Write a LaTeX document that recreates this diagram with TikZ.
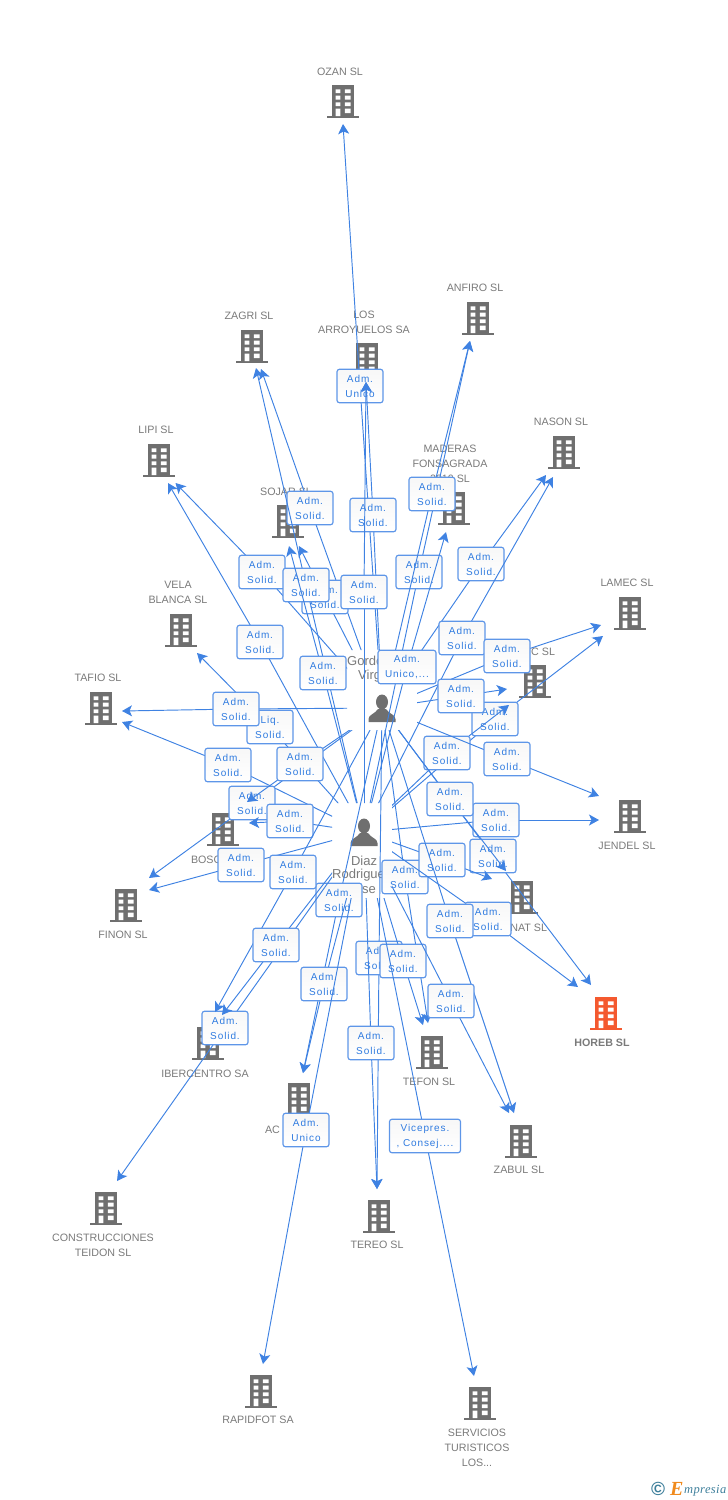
\documentclass[tikz,border=0pt]{standalone}
\usepackage{fontspec}
\setmainfont{Liberation Sans}
\newfontfamily\boxfont[LetterSpace=9]{Liberation Sans}
\newfontfamily\logofont[LetterSpace=3,Ligatures=NoCommon]{Liberation Serif}
\usetikzlibrary{arrows.meta}
\definecolor{edgeblue}{HTML}{3F82E2}
\definecolor{boxblue}{HTML}{5E96E8}
\definecolor{boxtext}{HTML}{2F7BE0}
\definecolor{icongrey}{HTML}{6F6F6F}
\definecolor{namegrey}{HTML}{7A7A7A}
\definecolor{horeb}{HTML}{F4592F}
\definecolor{logoteal}{HTML}{3E7F9B}
\definecolor{logoorange}{HTML}{F08A1D}
\tikzset{
  conn/.style={draw=edgeblue,line width=0.95pt},
  tipped/.style={conn,-{Stealth[length=10pt,width=11pt,inset=2.5pt]}},
  lblbox/.style={draw=boxblue,line width=1.15pt,rounded corners=2.5pt,top color=black!3,bottom color=white,
    minimum width=46pt,minimum height=33.5pt,inner sep=0pt,align=center,text=boxtext,
    font=\boxfont\fontsize{10}{15}\selectfont},
  bnode/.style={rectangle,minimum width=34pt,minimum height=34pt,inner sep=0pt,outer sep=0pt},
  pnode/.style={rectangle,minimum width=27pt,minimum height=27pt,inner sep=0pt,outer sep=0pt},
  namelbl/.style={inner sep=0pt,align=center,text=namegrey,font=\fontsize{10.7}{15}\selectfont,anchor=north},
  personlbl/.style={inner sep=0pt,text=namegrey,font=\fontsize{13}{15}\selectfont},
}
% building icon, name, label
\newcommand{\bld}[6][icongrey]{%
  \node[bnode] (#2) at (#3,#4) {};
  \begin{scope}[shift={(#3,#4)}]
    \fill[#1] (-11,-16) rectangle (11,15.5);
    \fill[#1] (-16,14.5) rectangle (16,17);
    \fill[white] (-7.5,-11.7) rectangle (-2.7,-8) (1.8,-11.7) rectangle (7.5,-8)
      (-7.5,-5.3) rectangle (-2.7,-1.3) (1.8,-5.3) rectangle (7.5,-1.3)
      (-7.5,1.3) rectangle (-2.7,5) (1.8,1.3) rectangle (7.5,5)
      (-7.5,7.7) rectangle (-2.7,15) (1.8,7.7) rectangle (7.5,12);
  \end{scope}
  \node[namelbl] (#2-name) at #5 {#6};
}
\newcommand{\prs}[5]{% name, x, y, NW corner, SE corner of the kept-out area
  \node[pnode] (#1) at (#2,#3) {};
  \coordinate (#1NW) at #4;
  \coordinate (#1SE) at #5;
  \fill[icongrey,shift={(#2,#3)}] (0,-6) ellipse (6 and 7.5)
    (-13.5,14) -- (-13.5,11) .. controls (-13.5,6.5) and (-7,6) .. (-4,1) -- (4,1)
    .. controls (7,6) and (13.5,6.5) .. (13.5,11) -- (13.5,14) -- cycle;
}
% person -> label -> building (arrow tip given relative to the building)
\newcommand{\lnk}[7][]{%
  \coordinate (e#2) at #6;
  \begin{scope}[even odd rule]
    \clip (0,0) rectangle (728,1500) (#3NW) rectangle (#3SE);
    \draw[conn] (#3) -- (e#2);
  \end{scope}
  \draw[tipped] (e#2) -- ([shift={#5}]#4.center);
  \node[lblbox,#1] (b#2) at (e#2) {#7};
}
\newcommand{\AS}{Adm.\\Solid.}
\begin{document}
\begin{tikzpicture}[x=1pt,y=-1pt]
\useasboundingbox (0,0) rectangle (728,1500);
\bld{ozan}{343}{101}{(340,68)}{OZAN SL}
\bld{los}{367}{359}{(364,311)}{LOS\\ARROYUELOS SA}
\bld{zagri}{252}{346}{(249,312)}{ZAGRI SL}
\bld{anfiro}{478}{318}{(475,284)}{ANFIRO SL}
\bld{nason}{564}{452}{(561,418)}{NASON SL}
\bld{lipi}{159}{460}{(156,426)}{LIPI SL}
\bld{maderas}{454}{508}{(450,445)}{MADERAS\\FONSAGRADA\\2010 SL}
\bld{sojar}{288}{521}{(286,488)}{SOJAR SL}
\bld{vela}{181}{630}{(178,581)}{VELA\\BLANCA SL}
\bld{lamec}{630}{613}{(627,579)}{LAMEC SL}
\bld{csl}{535}{681}{(555,648)}{\llap{C SL}}
\bld{tafio}{101}{708}{(98,674)}{TAFIO SL}
\bld{bosc}{223}{829}{(191,856)}{\rlap{BOSC}}
\bld{nat}{522}{897}{(547,924)}{\llap{NAT SL}}
\bld{finon}{126}{905}{(123,931)}{FINON SL}
\bld{jendel}{630}{816}{(627,842)}{JENDEL SL}
\bld[horeb]{horebsl}{606}{1013}{(602,1039)}{\textbf{HOREB SL}}
\bld{tefon}{432}{1052}{(429,1078)}{TEFON SL}
\bld{zabul}{521}{1141}{(519,1166)}{ZABUL SL}
\bld{iber}{208}{1043}{(205,1070)}{IBERCENTRO SA}
\bld{aca}{299}{1099}{(265,1126)}{\rlap{AC}}
\bld{tereo}{379}{1216}{(377,1241)}{TEREO SL}
\bld{cons}{106}{1208}{(103,1234)}{CONSTRUCCIONES\\TEIDON SL}
\bld{rapid}{261}{1391}{(258,1416)}{RAPIDFOT SA}
\bld{serv}{480}{1403}{(477,1429)}{SERVICIOS\\TURISTICOS\\LOS...}
\prs{gordo}{382}{708}{(347,650)}{(417,730)}
\prs{diaz}{364}{832}{(332,803)}{(392,898)}
\node[personlbl,anchor=west] (gordo-n1) at (347,661) {Gordo};
\node[personlbl,anchor=west] (gordo-n2) at (358,676) {Virg};
\node[personlbl] (diaz-n1) at (364,861) {Diaz};
\node[personlbl,anchor=west] (diaz-n2) at (332,875) {Rodrigue};
\node[personlbl] (diaz-n3) at (369,890) {se};
\lnk{1}{gordo}{ozan}{(0,23)}{(360,386)}{Adm.\\Unico}
\lnk{5}{diaz}{anfiro}{(-8,23)}{(419,572)}{\AS}
\lnk{2}{gordo}{zagri}{(9,23)}{(310,508)}{\AS}
\lnk{4}{gordo}{anfiro}{(-8,23)}{(432,494)}{\AS}
\lnk{3}{gordo}{los}{(-1,23)}{(373,515)}{\AS}
\lnk{6}{gordo}{nason}{(-18,23)}{(481,564)}{\AS}
\lnk{7}{gordo}{lipi}{(16.5,23)}{(262,572)}{\AS}
\lnk{11}{diaz}{lipi}{(9,23)}{(260,642)}{\AS}
\lnk{12}{diaz}{nason}{(-11,25)}{(462,638)}{\AS}
\lnk{13}{gordo}{lamec}{(-29,12)}{(507,656)}{\AS}
\lnk{9}{gordo}{sojar}{(11,25)}{(325,597)}{\AS}
\lnk{8}{diaz}{zagri}{(4,22)}{(306,585)}{\AS}
\lnk{10}{diaz}{los}{(-1,23)}{(364,592)}{\AS}
\lnk{14}{diaz}{sojar}{(1,25)}{(323,673)}{\AS}
\lnk[minimum width=58pt]{15}{diaz}{maderas}{(-8,24)}{(407,667)}{Adm.\\Unico,...}
\lnk{17}{diaz}{lamec}{(-27,23)}{(495,719)}{\AS}
\lnk{16}{gordo}{csl}{(-28,8)}{(461,696)}{\AS}
\lnk{19}{diaz}{vela}{(16,23)}{(270,727)}{Liq.\\Solid.}
\lnk{18}{gordo}{tafio}{(21,3)}{(236,709)}{\AS}
\lnk{20}{diaz}{tafio}{(21,14)}{(228,765)}{\AS}
\lnk{24}{gordo}{finon}{(23,-27)}{(252,803)}{\AS}
\lnk{25}{diaz}{bosc}{(26,-6)}{(290,821)}{\AS}
\lnk{21}{gordo}{bosc}{(24,-27)}{(300,764)}{\AS}
\lnk{22}{diaz}{csl}{(-26,24)}{(447,753)}{\AS}
\lnk{23}{gordo}{jendel}{(-31,-20)}{(507,759)}{\AS}
\lnk{27}{diaz}{jendel}{(-31,4)}{(496,820)}{\AS}
\lnk{28}{diaz}{finon}{(23,-15)}{(241,865)}{\AS}
\lnk{31}{gordo}{horebsl}{(-15,-28)}{(493,856)}{\AS}
\lnk{26}{gordo}{nat}{(-16,-26)}{(450,799)}{\AS}
\lnk{32}{gordo}{tefon}{(-4,-29)}{(405,877)}{\AS}
\lnk{30}{diaz}{nat}{(-30,-18)}{(442,860)}{\AS}
\lnk{33}{gordo}{aca}{(4,-26)}{(339,900)}{\AS}
\lnk{35}{diaz}{horebsl}{(-28,-26)}{(488,919)}{\AS}
\lnk{34}{gordo}{zabul}{(-7,-28)}{(450,921)}{\AS}
\lnk{41}{diaz}{cons}{(11,-27)}{(225,1028)}{\AS}
\lnk{29}{gordo}{iber}{(7,-31)}{(293,872)}{\AS}
\lnk{36}{diaz}{iber}{(14,-28)}{(276,945)}{\AS}
\lnk{37}{gordo}{tereo}{(-2,-27)}{(379,958)}{\AS}
\lnk{38}{diaz}{tefon}{(-9,-27)}{(403,961)}{\AS}
\lnk{39}{diaz}{aca}{(4,-26)}{(324,984)}{\AS}
\lnk{40}{diaz}{zabul}{(-12,-28)}{(451,1001)}{\AS}
\lnk{42}{diaz}{tereo}{(-2,-27)}{(371,1043)}{\AS}
\lnk{43}{diaz}{rapid}{(2,-27)}{(306,1130)}{Adm.\\Unico}
\lnk[minimum width=71pt]{44}{diaz}{serv}{(-6,-27)}{(425,1136)}{Vicepres.\\, Consej....}
\node[inner sep=0pt,text=logoteal,font=\bfseries\fontsize{19}{19}\selectfont] (logoc) at (658,1489) {©};
\node[inner sep=0pt,anchor=base west,text=logoorange,font=\logofont\itshape\bfseries\fontsize{20}{20}\selectfont] (logoe) at (670,1495) {E};
\node[inner sep=0pt,anchor=base west,text=logoteal,font=\logofont\itshape\fontsize{12.5}{12.5}\selectfont] (logot) at (684,1493) {mpresia};
\end{tikzpicture}
\end{document}
